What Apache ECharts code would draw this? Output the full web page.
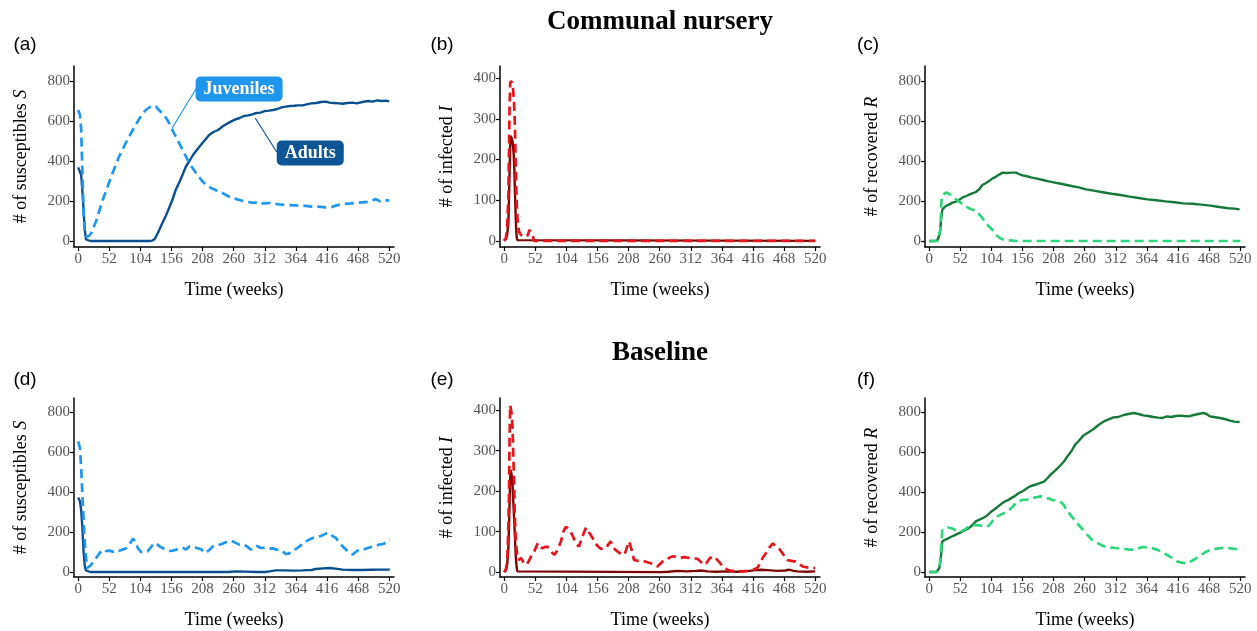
<!DOCTYPE html>
<html>
<head>
<meta charset="utf-8">
<script src="https://cdn.jsdelivr.net/npm/echarts@6/dist/echarts.min.js"></script>
<style>
  html, body { margin: 0; padding: 0; background: #fff; }
  #main { width: 1257px; height: 631px; }
</style>
</head>
<body>
<div id="main"></div>
<script>
// x ticks shared by all panels
var weekTicks = [0, 52, 104, 156, 208, 260, 312, 364, 416, 468, 520]
var sTicks = [0, 200, 400, 600, 800]
var iTicks = [0, 100, 200, 300, 400]

// (a) communal nursery - susceptibles
var aAdultW = [0,3,5,7,9,11,13,20,60,100,120,124,128,134,140,146,152,158,163,170,175,180,186,192,197,205,212,219,226,234,241,248,256,263,270,277,284,291,298,305,312,319,326,333,340,347,354,361,368,375,382,390,398,406,414,420,428,436,442,450,458,466,475,484,492,500,507,514,520]
var aAdultV = [368,360,330,250,150,60,8,0,0,0,0,2,10,45,85,122,165,210,255,300,335,372,400,430,450,480,505,530,545,555,572,585,598,608,615,625,628,633,640,642,650,652,655,660,668,672,675,676,678,678,683,688,690,695,697,692,690,688,686,690,692,688,695,700,697,703,700,702,698]
var aJuvW = [0,3,5,7,9,11,14,18,22,24,30,41,55,68,82,96,105,113,120,124,130,135,145,152,160,169,178,186,197,208,216,224,238,252,266,280,294,300,308,322,336,350,364,375,390,400,414,424,432,442,456,470,484,490,497,505,512,520]
var aJuvV = [655,630,560,350,150,40,22,25,40,47,100,205,320,420,505,580,625,655,670,677,672,655,625,590,540,488,435,388,340,297,275,262,245,222,208,197,190,197,188,190,183,180,178,177,172,172,168,170,178,185,188,192,196,200,210,198,205,202]

// (b) communal nursery - infected
var bAdultW = [0,3,5,7,8,9,10,11,12,13,14,15,16,17,18,19,20,21,22,24,520]
var bAdultV = [0,5,15,45,100,170,230,258,262,255,245,230,210,175,120,70,30,8,2,0,0]
var bJuvW = [0,3,5,7,8,9,10,11,12,13,14,15,16,17,18,19,20,21,22,23,25,28,32,36,40,42,44,46,48,49,50,520]
var bJuvV = [0,8,35,110,220,330,385,393,392,390,388,370,350,323,280,200,140,90,60,40,22,15,11,11,15,27,24,18,12,8,0,0]

// (c) communal nursery - recovered
var cAdultW = [0,10,14,16,18,20,22,25,28,34,39,45,50,56,62,67,72,78,84,89,95,100,106,112,117,123,130,137,145,150,156,162,170,180,190,200,210,220,230,240,250,262,275,290,305,320,335,350,365,380,395,410,425,440,455,470,485,500,510,519]
var cAdultV = [0,0,5,15,38,110,158,168,175,183,192,197,205,218,225,232,238,245,260,280,290,300,313,322,332,342,340,342,342,335,328,325,318,312,305,298,292,286,280,274,268,258,252,244,236,230,222,215,208,204,198,194,188,186,182,177,170,164,162,158]
var cJuvW = [0,14,17,19,20,21,22,25,28,32,36,42,50,58,67,74,81,88,95,100,106,112,118,123,128,135,145,520]
var cJuvV = [0,0,10,60,172,215,230,238,242,238,230,215,197,180,163,155,142,118,88,72,55,30,15,8,5,3,0,0]

// (d) baseline - susceptibles
var dAdultW = [0,3,5,7,9,11,13,16,20,250,263,280,297,312,320,330,345,360,375,390,397,410,420,430,442,460,475,490,505,521]
var dAdultV = [373,353,310,220,103,30,8,2,0,0,3,2,0,0,3,8,8,7,8,10,15,18,20,17,12,10,10,11,12,12]
var dJuvW = [0,3,5,7,10,12,15,18,21,26,30,36,41,46,52,58,64,68,74,80,86,92,96,100,105,110,116,122,127,132,136,142,148,153,158,164,170,175,180,186,192,199,206,213,219,225,232,240,248,255,262,269,276,282,289,294,299,305,312,318,325,332,340,347,352,358,364,370,376,384,392,398,406,414,420,426,431,438,445,452,459,464,470,477,484,490,497,503,510,516,521]
var dJuvV = [653,620,520,387,200,103,20,12,33,55,70,95,112,105,107,102,108,105,112,118,140,167,148,118,100,98,103,125,145,138,128,118,112,105,107,112,118,120,112,128,125,120,112,95,110,128,133,140,150,157,148,137,138,128,112,125,130,120,122,117,118,112,108,90,92,107,115,128,145,158,170,175,180,192,195,178,170,140,120,100,87,100,112,112,120,125,130,137,140,150,162]

// (e) baseline - infected
var eAdultW = [0,3,5,7,8,9,10,11,12,13,14,15,16,17,18,19,20,21,22,24,262,275,290,305,320,329,340,355,373,390,410,420,429,440,457,470,476,484,490,505,520]
var eAdultV = [0,5,18,60,108,170,230,252,248,235,215,180,150,120,85,50,26,10,2,0,0,1,3,2,3,4,2,1,2,1,3,5,6,5,3,4,6,3,2,1,2]
var eJuvW = [0,3,5,7,8,9,10,11,12,13,14,15,16,17,18,19,20,22,24,28,32,36,40,45,50,56,60,64,68,72,76,80,84,88,92,95,99,103,107,111,115,120,125,130,134,137,142,148,153,158,162,166,170,174,178,182,186,189,195,201,205,209,213,217,224,231,238,245,250,256,262,267,273,279,284,290,295,300,306,312,318,323,329,334,338,343,348,353,359,365,373,380,390,398,407,415,423,428,432,438,444,449,455,460,466,473,480,487,493,499,505,512,520]
var eJuvV = [0,8,26,110,190,330,412,405,395,380,355,300,250,190,130,90,67,40,30,35,25,18,24,39,50,71,62,59,62,63,55,48,43,52,65,76,100,112,108,100,88,70,63,85,100,110,98,84,70,62,57,60,60,68,76,62,55,51,45,43,60,76,55,30,28,28,25,22,18,14,22,30,32,38,39,36,35,37,36,35,34,33,25,18,22,33,39,35,26,15,6,3,3,2,3,5,10,22,35,48,62,71,63,57,45,30,28,26,20,14,12,12,10]

// (f) baseline - recovered
var fAdultW = [0,12,15,17,19,21,22,26,31,36,42,48,53,58,64,70,78,84,90,97,103,110,119,125,133,142,150,157,164,170,176,181,187,192,198,203,208,214,220,226,231,238,244,250,258,266,275,283,292,300,308,316,325,333,342,350,358,366,375,383,390,397,405,412,419,426,434,442,450,458,464,469,476,486,494,503,510,519]
var fAdultV = [0,0,4,20,60,120,153,160,167,175,183,192,198,207,215,228,253,262,270,283,300,315,337,350,362,378,395,405,420,430,435,440,447,452,470,487,500,517,535,555,578,605,637,655,683,698,715,735,753,763,773,775,785,790,795,790,783,780,775,772,770,778,775,780,782,780,778,785,790,795,790,778,775,770,765,757,752,750]
var fJuvW = [0,13,16,18,20,22,24,31,36,42,48,53,58,64,69,75,83,90,96,100,106,114,122,131,139,147,155,164,170,175,181,186,193,200,206,212,219,225,231,239,247,256,264,272,281,289,297,305,312,319,327,335,342,349,357,364,372,381,389,397,405,414,422,431,439,447,456,464,472,481,489,497,505,512,519]
var fJuvV = [0,0,8,40,120,210,220,222,220,212,205,203,210,222,228,235,233,230,228,232,255,278,290,303,325,350,360,362,365,372,375,378,372,367,360,358,353,335,303,275,245,215,187,162,145,133,123,122,120,117,115,112,112,118,125,123,120,112,100,87,72,53,47,45,55,70,88,103,112,117,120,120,118,115,112]

var serif = 'Liberation Serif'
var colAdultS = '#0b4f8e', colJuvS = '#2196ee'
var colAdultI = '#7d0606', colJuvI = '#e8141c'
var colAdultR = '#17783a', colJuvR = '#2ed57b'

function pairs(w, v) {
  return w.map(function (x, i) { return [x, v[i]] })
}

var lefts = [74, 500, 925]
var tops = [66, 398]
var heights = [181, 179]

var grids = [], xAxes = [], yAxes = []
var yNames = ['# of susceptibles {i|S}', '# of infected {i|I}', '# of recovered {i|R}']
var yRanges = [[[-30, 875], [-15, 430], [-30, 875]], [[-25, 870], [-12, 430], [-25, 870]]]
var yTickSets = [sTicks, iTicks, sTicks]

for (var r = 0; r < 2; r++) {
  for (var c = 0; c < 3; c++) {
    var k = r * 3 + c
    grids.push({ left: lefts[c], top: tops[r], width: 320, height: heights[r] })
    xAxes.push({
      gridIndex: k, type: 'value', min: -7, max: 528,
      name: 'Time (weeks)', nameLocation: 'middle', nameGap: 34,
      nameTextStyle: { fontFamily: serif, fontSize: 18, color: '#000' },
      axisLine: { onZero: false, lineStyle: { color: '#000', width: 1.5 } },
      axisTick: { customValues: weekTicks, length: 4, lineStyle: { color: '#000', width: 1.2 } },
      axisLabel: { customValues: weekTicks, fontFamily: serif, fontSize: 15, color: '#555', margin: 5 },
      splitLine: { show: false }
    })
    yAxes.push({
      gridIndex: k, type: 'value', min: yRanges[r][c][0], max: yRanges[r][c][1],
      name: yNames[c], nameLocation: 'middle', nameGap: 44,
      nameTextStyle: {
        fontFamily: serif, fontSize: 18, color: '#000',
        rich: { i: { fontFamily: serif, fontSize: 18, fontStyle: 'italic', color: '#000' } }
      },
      axisLine: { onZero: false, lineStyle: { color: '#000', width: 1.5 } },
      axisTick: { customValues: yTickSets[c], length: 4, lineStyle: { color: '#000', width: 1.2 } },
      axisLabel: { customValues: yTickSets[c], fontFamily: serif, fontSize: 15, color: '#555', margin: 4 },
      splitLine: { show: false }
    })
  }
}

function line(k, w, v, color, dashed) {
  return {
    type: 'line', xAxisIndex: k, yAxisIndex: k,
    data: pairs(w, v), showSymbol: false, symbol: 'none', silent: true,
    z: dashed ? 3 : 2,
    lineStyle: { color: color, width: dashed ? 2.7 : 2.4, type: dashed ? [9, 5] : 'solid' }
  }
}

var series = [
  line(0, aAdultW, aAdultV, colAdultS, false),
  line(0, aJuvW, aJuvV, colJuvS, true),
  line(1, bAdultW, bAdultV, colAdultI, false),
  line(1, bJuvW, bJuvV, colJuvI, true),
  line(2, cAdultW, cAdultV, colAdultR, false),
  line(2, cJuvW, cJuvV, colJuvR, true),
  line(3, dAdultW, dAdultV, colAdultS, false),
  line(3, dJuvW, dJuvV, colJuvS, true),
  line(4, eAdultW, eAdultV, colAdultI, false),
  line(4, eJuvW, eJuvV, colJuvI, true),
  line(5, fAdultW, fAdultV, colAdultR, false),
  line(5, fJuvW, fJuvV, colJuvR, true)
]

// labels with leader lines in panel (a)
function tag(text, at, from, to, bg) {
  return {
    type: 'line', xAxisIndex: 0, yAxisIndex: 0, data: [], silent: true, z: 5,
    markLine: {
      silent: true, symbol: 'none', label: { show: false },
      lineStyle: { color: bg, width: 1.2, type: 'solid' },
      data: [[{ coord: from }, { coord: to }]]
    },
    markPoint: {
      silent: true, symbol: 'rect', symbolSize: 0,
      data: [{ coord: at }],
      label: {
        show: true, position: 'inside', formatter: text,
        fontFamily: serif, fontWeight: 'bold', fontSize: 18, color: '#fff',
        backgroundColor: bg, borderRadius: 5, padding: [4, 8, 3, 8]
      }
    }
  }
}
series.push(tag('Juveniles', [269, 760], [157, 565], [197, 760], '#1e96ee'))
series.push(tag('Adults', [388, 440], [296, 615], [332, 445], '#0d5595'))

var labels = [['(a)', 25, 45], ['(b)', 442, 45], ['(c)', 868, 45], ['(d)', 25, 380], ['(e)', 442, 380], ['(f)', 866, 380]]
var graphic = labels.map(function (l) {
  return { type: 'text', x: l[1], y: l[2], style: { text: l[0], font: '19px "Liberation Sans"', fill: '#000', textAlign: 'center', textVerticalAlign: 'middle' } }
})
graphic.push({ type: 'text', x: 660, y: 22, style: { text: 'Communal nursery', font: 'bold 27px "Liberation Serif"', fill: '#000', textAlign: 'center', textVerticalAlign: 'middle' } })
graphic.push({ type: 'text', x: 660, y: 353, style: { text: 'Baseline', font: 'bold 27px "Liberation Serif"', fill: '#000', textAlign: 'center', textVerticalAlign: 'middle' } })

var myChart = echarts.init(document.getElementById('main'))
myChart.setOption({
  backgroundColor: '#fff',
  animation: false,
  grid: grids,
  xAxis: xAxes,
  yAxis: yAxes,
  series: series,
  graphic: graphic
})
</script>
</body>
</html>
